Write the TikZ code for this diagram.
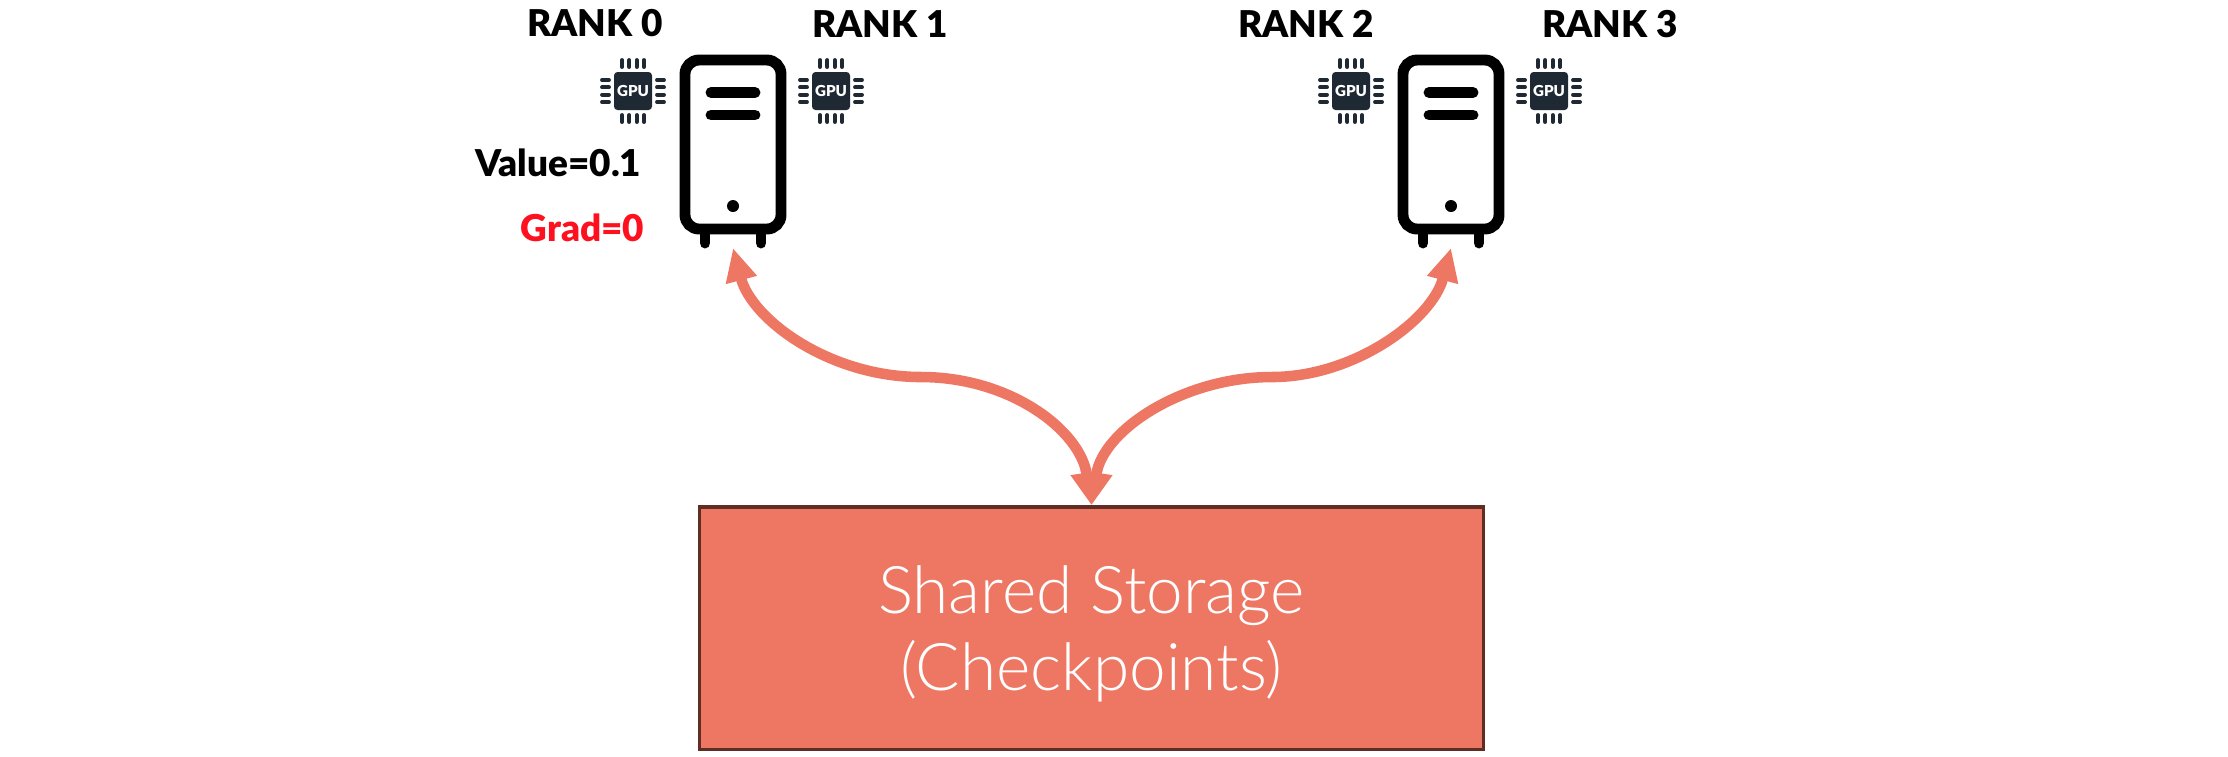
\documentclass[tikz,border=0pt]{standalone}
\usepackage{fontspec}
\setmainfont{Lato}
\newfontfamily\heavyfont{Lato Black}
\newfontfamily\lightfont{Lato Light}
\usetikzlibrary{arrows.meta}
\definecolor{salmon}{HTML}{EE7764}
\definecolor{chipdark}{HTML}{1F2933}
\definecolor{edgebrown}{HTML}{5F2D24}
\tikzset{
	ranklabel/.style={inner sep=0pt, font=\heavyfont\fontsize{10.5}{12}\selectfont},
	storagebox/.style={draw=edgebrown, line width=0.9pt, fill=salmon, inner sep=0pt, minimum width=7.84cm, minimum height=2.42cm},
	storagetext/.style={text=white, align=center, inner sep=0pt, font=\lightfont\fontsize{18.7}{22}\selectfont},
	pin/.style={chipdark, line width=1.1pt, line cap=round},
	pics/serverbox/.style={code={
		\draw[line width=3.1pt, rounded corners=4pt] (-48,60) rectangle (48,229);
		\draw[line width=3.1pt, line cap=round] (-22,92.5) -- (22,92.5);
		\draw[line width=3.1pt, line cap=round] (-22,115) -- (22,115);
		\draw[line width=3.1pt, line cap=round] (-28,232) -- (-28,243);
		\draw[line width=3.1pt, line cap=round] (28,232) -- (28,243);
		\fill (0,206) circle (6);
	}},
	pics/gpuchip/.style={code={
		\fill[chipdark, rounded corners=1pt] (-19,-19) rectangle (19,19);
		\foreach \p in {-11,-3.7,3.7,11} {
			\draw[pin] (\p,-31) -- (\p,-24);
			\draw[pin] (\p,24) -- (\p,31);
			\draw[pin] (-31,\p) -- (-24,\p);
			\draw[pin] (24,\p) -- (31,\p);
		}
		\node[text=white, inner sep=0pt, font=\heavyfont\fontsize{4.3}{5}\selectfont] (#1) at (0,0) {GPU};
	}},
}
\begin{document}
\begin{tikzpicture}[x=0.01cm, y=-0.01cm, >={Triangle[length=9.4pt, width=8.5pt]}]
	\useasboundingbox (0,0) rectangle (2228,756);
	% Two servers
	\pic at (733,0) {serverbox};
	\pic at (1451,0) {serverbox};
	% GPU chips beside them
	\pic at (633,91) {gpuchip=gpuA};
	\pic at (831,91) {gpuchip=gpuB};
	\pic at (1351,91) {gpuchip=gpuC};
	\pic at (1549,91) {gpuchip=gpuD};
	% Labels
	\node[ranklabel] (rankA) at (595,23) {RANK 0};
	\node[ranklabel] (rankB) at (880,24) {RANK 1};
	\node[ranklabel] (rankC) at (1306,24) {RANK 2};
	\node[ranklabel] (rankD) at (1610,24) {RANK 3};
	\node[ranklabel, anchor=east] (valueLbl) at (642,163) {Value=0.1};
	\node[ranklabel, anchor=east, text={rgb,255:red,254;green,17;blue,31}] (gradLbl) at (645,228) {Grad=0};
	% Storage
	\node[storagebox] (storage) at (1091.5,628) {};
	\node[storagetext] (storageLbl) at (1091.5,634) {Shared Storage\\(Checkpoints)};
	% Arrow ends and bends
	\coordinate (tipA) at (733,248);
	\coordinate (tipB) at (1451,248);
	\coordinate (bendA) at (921,377);
	\coordinate (bendB) at (1272,377);
	\draw[<->, salmon, line width=3pt] (tipA) .. controls (752,320) and (830,377) .. (bendA) .. controls (1010,377) and (1080,430) .. (storage.north);
	\draw[<->, salmon, line width=3pt] (tipB) .. controls (1432,320) and (1354,377) .. (bendB) .. controls (1183,377) and (1103,430) .. (storage.north);
\end{tikzpicture}
\end{document}
